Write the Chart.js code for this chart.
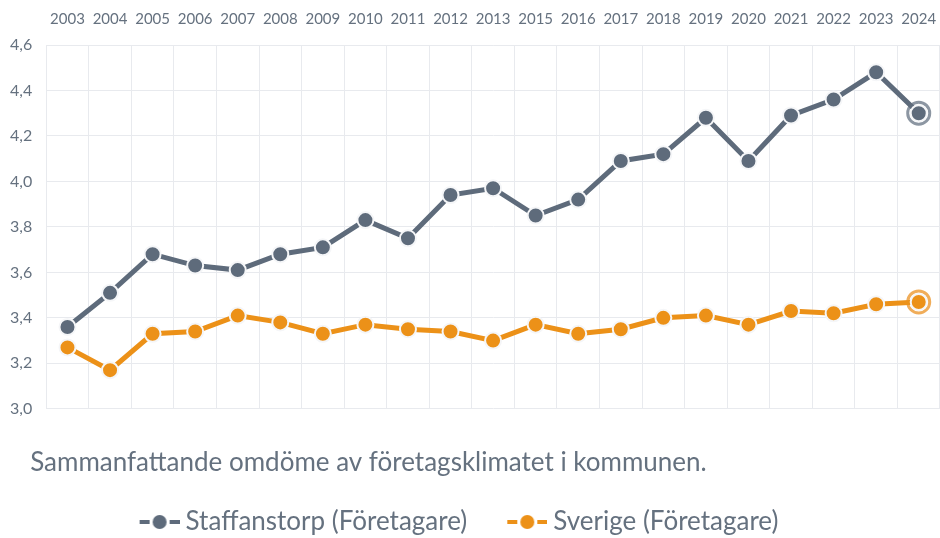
<!DOCTYPE html>
<html>
<head>
<meta charset="utf-8">
<script src="https://cdn.jsdelivr.net/npm/chart.js@4/dist/chart.umd.min.js"></script>
<style>
  html, body { margin: 0; padding: 0; background: #fff; }
  #wrap { width: 940px; height: 538px; }
</style>
</head>
<body>
<div id="wrap"><canvas id="chart"></canvas></div>
<script>
const years = ['2003', '2004', '2005', '2006', '2007', '2008', '2009', '2010', '2011', '2012', '2013',
  '2015', '2016', '2017', '2018', '2019', '2020', '2021', '2022', '2023', '2024'];
const staffanstorp = [3.36, 3.51, 3.68, 3.63, 3.61, 3.68, 3.71, 3.83, 3.75, 3.94, 3.97,
  3.85, 3.92, 4.09, 4.12, 4.28, 4.09, 4.29, 4.36, 4.48, 4.30];
const sverige = [3.27, 3.17, 3.33, 3.34, 3.41, 3.38, 3.33, 3.37, 3.35, 3.34, 3.30,
  3.37, 3.33, 3.35, 3.40, 3.41, 3.37, 3.43, 3.42, 3.46, 3.47];
const seriesNames = ['Staffanstorp (Företagare)', 'Sverige (Företagare)'];
const yTicks = [3.0, 3.2, 3.4, 3.6, 3.8, 4.0, 4.2, 4.4, 4.6];
const titleText = 'Sammanfattande omdöme av företagsklimatet i kommunen.';

const grey = '#5e6b7b';
const orange = '#ec9118';
const ringGrey = '#8c96a2';
const ringOrange = '#f0ad5a';
const textColor = '#65717f';
const fontFamily = 'Lato, "Open Sans", sans-serif';

// big end points should not push the plot area inwards
Chart.LineController.prototype.getMaxOverflow = () => 0;

// only the last point gets the ring
const lastOnly = arr => arr.map((v, i) => (i === arr.length - 1 ? v : null));

// legend marker: dash - dot - dash, drawn at the right end of a wider canvas
const iconBox = 59;
const legendIcon = color => {
  const c = document.createElement('canvas');
  c.width = iconBox + 14;
  c.height = 16;
  const ctx = c.getContext('2d');
  const x0 = c.width - 40;
  ctx.fillStyle = color;
  ctx.fillRect(x0, 6, 10, 4);
  ctx.fillRect(x0 + 30, 6, 10, 4);
  ctx.beginPath();
  ctx.arc(x0 + 20, 8, 7, 0, Math.PI * 2);
  ctx.fill();
  return c;
};

const lineSet = (label, data, color) => ({
  label,
  data,
  borderColor: color,
  backgroundColor: color,
  borderWidth: 5,
  pointRadius: 8,
  pointBorderWidth: 2,
  pointBorderColor: '#f5f6f8',
  pointBackgroundColor: color,
  pointHoverRadius: 8,
  tension: 0,
  order: 1,
  clip: false,
  legendIcon: legendIcon(color)
});

const ringSet = (data, color) => ({
  label: '',
  data: lastOnly(data),
  showLine: false,
  pointRadius: 11,
  pointBorderWidth: 3,
  pointBorderColor: color,
  pointBackgroundColor: '#fff',
  order: 2,
  clip: false,
  isRing: true
});

const shiftBlocks = {
  id: 'shiftBlocks',
  afterLayout(chart) {
    if (chart.titleBlock) {
      chart.titleBlock.left = chart.chartArea.left - 16;
    }
    if (chart.legend) {
      chart.legend.left -= 22;
      chart.legend.right -= 22;
    }
  }
};

new Chart(document.getElementById('chart'), {
  type: 'line',
  data: {
    labels: years,
    datasets: [
      lineSet(seriesNames[0], staffanstorp, grey),
      lineSet(seriesNames[1], sverige, orange),
      ringSet(staffanstorp, ringGrey),
      ringSet(sverige, ringOrange)
    ]
  },
  options: {
    responsive: true,
    maintainAspectRatio: false,
    animation: false,
    events: [],
    layout: { padding: { left: -4, right: 0, top: -7, bottom: -7 } },
    scales: {
      x: {
        position: 'top',
        offset: true,
        grid: { offset: true, color: '#e8eaee', drawTicks: false },
        border: { color: '#e8eaee' },
        afterFit: scale => { scale.paddingLeft = 0; scale.paddingRight = 0; },
        ticks: {
          color: textColor,
          font: { family: fontFamily, size: 15 },
          padding: 17,
          maxRotation: 0,
          autoSkip: false
        }
      },
      y: {
        min: yTicks[0],
        max: yTicks[yTicks.length - 1],
        afterBuildTicks: axis => { axis.ticks = yTicks.map(v => ({ value: v })); },
        grid: { color: '#e8eaee', drawTicks: false },
        border: { color: '#e8eaee' },
        ticks: {
          color: textColor,
          font: { family: fontFamily, size: 16 },
          padding: 14,
          callback: v => v.toFixed(1).replace('.', ',')
        }
      }
    },
    plugins: {
      tooltip: { enabled: false },
      title: {
        display: true,
        text: titleText,
        position: 'bottom',
        align: 'start',
        weight: 500,
        color: textColor,
        font: { family: fontFamily, size: 26, weight: 'normal' },
        padding: { top: 38, bottom: 17 }
      },
      legend: {
        position: 'bottom',
        weight: 1000,
        labels: {
          color: textColor,
          font: { family: fontFamily, size: 26 },
          usePointStyle: true,
          pointStyleWidth: iconBox,
          padding: 14,
          generateLabels: chart => chart.data.datasets
            .map((ds, i) => ({ ds, i }))
            .filter(o => !o.ds.isRing)
            .map(o => ({
              text: o.ds.label,
              fillStyle: o.ds.borderColor,
              strokeStyle: o.ds.borderColor,
              lineWidth: 0,
              pointStyle: o.ds.legendIcon,
              fontColor: textColor,
              datasetIndex: o.i,
              hidden: false
            }))
        }
      }
    }
  },
  plugins: [shiftBlocks]
});
</script>
</body>
</html>
